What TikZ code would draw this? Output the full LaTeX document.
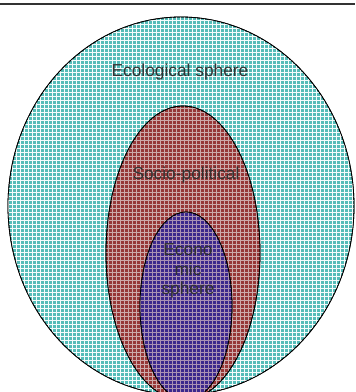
\documentclass[tikz,border=0pt]{standalone}
\usepackage{fontspec}
\setmainfont{Liberation Sans}
\usetikzlibrary{patterns.meta}
\definecolor{teal1}{RGB}{85, 188, 184}
\definecolor{teal2}{RGB}{245, 252, 252}
\definecolor{red1}{RGB}{150, 55, 55}
\definecolor{red2}{RGB}{205, 170, 170}
\definecolor{blue1}{RGB}{60, 40, 140}
\definecolor{blue2}{RGB}{170, 145, 180}
\definecolor{gray1}{RGB}{50, 50, 50}

\begin{document}
\begin{tikzpicture}[
    x=0.75pt, y=0.75pt,
    zone/.style={
      draw=black, line width=0.6pt, fill=#1
    },
    grid1/.style={pattern={Hatch[angle=0, distance=3pt, line width=0.6pt]}, pattern color=#1},
    ztext/.style={font=\fontsize{13}{14.5}\selectfont, text=gray1, align=center},
  ]

  \useasboundingbox (0, 0) rectangle (355, 392);
  \clip (0, 0) rectangle (355, 392);

  % Spheres
  \draw[zone=teal1] (181, 186) ellipse [x radius=173, y radius=189];
  \fill[grid1=teal2] (181, 186) ellipse [x radius=173, y radius=189];
  \draw[zone=red1] (183, 139) ellipse [x radius=77, y radius=147];
  \fill[grid1=red2] (183, 139) ellipse [x radius=77, y radius=147];
  \draw[zone=blue1] (186, 86) ellipse [x radius=46, y radius=94];
  \fill[grid1=blue2] (186, 86) ellipse [x radius=46, y radius=94];

  % Outlines on top
  \draw[line width=0.6pt] (181, 186) ellipse [x radius=173, y radius=189];
  \draw[line width=0.6pt] (183, 139) ellipse [x radius=77, y radius=147];
  \draw[line width=0.6pt] (186, 86) ellipse [x radius=46, y radius=94];

  % Labels
  \node[ztext] (eco) at (180, 320) {Ecological sphere};
  \node[ztext] (soc) at (186, 217) {Socio-political};
  \node[ztext] (econ) at (188, 121) {Econo\\mic\\sphere};

  % Rule
  \draw[line width=1.6pt, gray1] (0, 388) -- (355, 388);

\end{tikzpicture}
\end{document}
